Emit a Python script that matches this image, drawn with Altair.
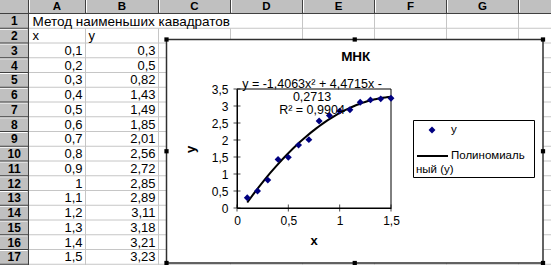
import altair as alt
import pandas as pd

# ---------------- data ----------------
x_values = [0.1, 0.2, 0.3, 0.4, 0.5, 0.6, 0.7, 0.8, 0.9, 1.0, 1.1, 1.2, 1.3, 1.4, 1.5]
y_values = [0.3, 0.5, 0.82, 1.43, 1.49, 1.85, 2.01, 2.56, 2.72, 2.85, 2.89, 3.11, 3.18, 3.21, 3.23]
column_letters = ["A", "B", "C", "D", "E", "F", "G"]
row_numbers = list(range(1, 18))
sheet_title = "Метод наименьших кавадратов"
header_x = "x"
header_y = "y"
chart_title = "МНК"
x_axis_title = "x"
y_axis_title = "y"
trend_label_lines = ["y = -1,4063x² + 4,4715x -", "0,2713", "R² = 0,9904"]
legend_series = "y"
legend_trend_lines = ["Полиномиаль", "ный (y)"]
x_tick_values = [0, 0.5, 1, 1.5]
y_tick_values = [0, 0.5, 1, 1.5, 2, 2.5, 3, 3.5]

# ---------------- layout ----------------
W, H = 551, 265
PL, PT, PW, PH = 237, 89, 154, 119          # inner plot area
COL_EDGES = [0, 28.5, 85.5, 158.5, 230.5, 302.5, 374.5, 446.5, 518.5]
HEAD_H = 13.5
ROW_H = 14.75
BOX = (166.5, 39.5, 543, 263)              # chart object box
FONT = "Liberation Sans"
GRID = "#c6c6c6"
HEAD = "#c0c0c0"

XP = alt.Scale(domain=[0, W], range=[-PL, W - PL], nice=False, zero=False)
YP = alt.Scale(domain=[0, H], range=[-PT, H - PT], nice=False, zero=False)
XS = alt.Scale(domain=[0, 1.5], nice=False, zero=False)
YS = alt.Scale(domain=[0, 3.5], nice=False, zero=False)


def row_top(r):
    return HEAD_H + (r - 1) * ROW_H


def rules(rows, color, width=1.0):
    df = pd.DataFrame(rows, columns=["x1", "y1", "x2", "y2"])
    return alt.Chart(df).mark_rule(color=color, strokeWidth=width).encode(
        x=alt.X("x1:Q", scale=XP, axis=None), x2="x2:Q",
        y=alt.Y("y1:Q", scale=YP, axis=None), y2="y2:Q")


def rects(rows, fill, stroke=None, sw=0.0):
    df = pd.DataFrame(rows, columns=["x1", "y1", "x2", "y2"])
    kw = dict(fill=fill, strokeWidth=sw)
    if stroke:
        kw["stroke"] = stroke
    return alt.Chart(df).mark_rect(**kw).encode(
        x=alt.X("x1:Q", scale=XP, axis=None), x2="x2:Q",
        y=alt.Y("y1:Q", scale=YP, axis=None), y2="y2:Q")


def texts(rows, align, size, weight="normal", angle=0):
    df = pd.DataFrame(rows, columns=["x", "y", "t"])
    return alt.Chart(df).mark_text(
        align=align, baseline="middle", fontSize=size, fontWeight=weight,
        font=FONT, color="black", angle=angle).encode(
        x=alt.X("x:Q", scale=XP, axis=None),
        y=alt.Y("y:Q", scale=YP, axis=None), text="t:N")


def fmt(v):
    return f"{v:g}".replace(".", ",")


layers = []

# ---- spreadsheet: header backgrounds ----
layers.append(rects([(0, 0, W, HEAD_H), (0, 0, COL_EDGES[1], H)], HEAD))

# ---- cell gridlines ----
grid_rows = []
for e in COL_EDGES[2:]:
    start = row_top(2) if e < 231 else HEAD_H
    grid_rows.append((e, start, e, H))
for r in row_numbers:
    y = row_top(r) + ROW_H
    grid_rows.append((COL_EDGES[1], y, W, y))
layers.append(rules(grid_rows, GRID))

# ---- header separators (3D look) ----
dark = []
light = []
for e in COL_EDGES[1:]:
    dark.append((e, 0, e, HEAD_H))
    light.append((e + 1, 0, e + 1, HEAD_H - 1))
for r in row_numbers:
    y = row_top(r) + ROW_H
    dark.append((0, y, COL_EDGES[1], y))
    light.append((0, y + 1, COL_EDGES[1] - 1, y + 1))
dark.append((0, HEAD_H, W, HEAD_H))
dark.append((COL_EDGES[1], 0, COL_EDGES[1], H))
layers.append(rules(light, "white"))
layers.append(rules(dark, "#404040"))

# ---- header text ----
hdr = [((COL_EDGES[i + 1] + COL_EDGES[i + 2]) / 2, HEAD_H / 2, c)
       for i, c in enumerate(column_letters)]
layers.append(texts(hdr, "center", 11.5, "bold"))
rn = [(COL_EDGES[1] / 2, row_top(r) + ROW_H / 2 + 0.5, str(r)) for r in row_numbers]
layers.append(texts(rn, "center", 12, "bold"))

# ---- cell text ----
left_cells = [(COL_EDGES[1] + 4, row_top(1) + ROW_H / 2 + 1, sheet_title)]
layers.append(texts(left_cells, "left", 13.5))
left_cells2 = [(COL_EDGES[1] + 4, row_top(2) + ROW_H / 2 + 0.5, header_x),
               (COL_EDGES[2] + 3, row_top(2) + ROW_H / 2 + 0.5, header_y)]
layers.append(texts(left_cells2, "left", 13))
right_cells = []
for i, (xv, yv) in enumerate(zip(x_values, y_values)):
    yc = row_top(3 + i) + ROW_H / 2 + 0.5
    right_cells.append((COL_EDGES[2] - 3, yc, fmt(xv)))
    right_cells.append((COL_EDGES[3] - 3, yc, fmt(yv)))
layers.append(texts(right_cells, "right", 13))

# ---- chart object box ----
bx1, by1, bx2, by2 = BOX
layers.append(rects([BOX], "white", "#303030", 1.5))
handles = pd.DataFrame({
    "x": [bx1, (bx1 + bx2) / 2, bx2, bx1, bx2, bx1, (bx1 + bx2) / 2, bx2],
    "y": [by1, by1, by1, (by1 + by2) / 2, (by1 + by2) / 2, by2, by2, by2]})
layers.append(alt.Chart(handles).mark_square(color="black", size=18, opacity=1).encode(
    x=alt.X("x:Q", scale=XP, axis=None), y=alt.Y("y:Q", scale=YP, axis=None)))

# ---- chart title ----
layers.append(texts([((bx1 + bx2) / 2 + 1, 57, chart_title)], "center", 13.5, "bold"))

# ---- plot area border ----
layers.append(rects([(PL, PT, PL + PW, PT + PH)], "white", "black", 1))

# ---- tick marks crossing the axes ----
xt = pd.DataFrame({"v": x_tick_values, "z": [0] * len(x_tick_values)})
layers.append(alt.Chart(xt).mark_tick(orient="vertical", size=7, thickness=1, color="black").encode(
    x=alt.X("v:Q", scale=XS, axis=None), y=alt.Y("z:Q", scale=YS, axis=None)))
yt = pd.DataFrame({"v": y_tick_values, "z": [0] * len(y_tick_values)})
layers.append(alt.Chart(yt).mark_tick(orient="horizontal", size=7, thickness=1, color="black").encode(
    y=alt.Y("v:Q", scale=YS, axis=None), x=alt.X("z:Q", scale=XS, axis=None)))

# ---- data ----
pts = pd.DataFrame({"x": x_values, "y": y_values})
label_expr = "replace(toString(datum.value), '.', ',')"
ax_common = dict(ticks=False, grid=False, domainColor="black", domainWidth=1,
                 labelColor="black", labelFont=FONT, labelFontSize=12,
                 labelFlush=False, labelOverlap=False, title=None, zindex=2)

trend = alt.Chart(pts).transform_regression(
    "x", "y", method="poly", order=2).mark_line(color="black", strokeWidth=2).encode(
    x=alt.X("x:Q", scale=XS, axis=None), y=alt.Y("y:Q", scale=YS, axis=None))
points = alt.Chart(pts).mark_point(shape="diamond", filled=True, color="#000080",
                                   size=48, opacity=1).encode(
    x=alt.X("x:Q", scale=XS, axis=alt.Axis(orient="bottom", values=x_tick_values,
                                           labelExpr=label_expr, labelPadding=7, **ax_common)),
    y=alt.Y("y:Q", scale=YS, axis=alt.Axis(orient="left", values=y_tick_values,
                                           labelExpr=label_expr, labelPadding=9, **ax_common)))
layers.append(trend)
layers.append(points)

# ---- trendline label ----
tl = [(312, 84 + 13 * i, t) for i, t in enumerate(trend_label_lines)]
layers.append(texts(tl, "center", 12.5))

# ---- axis titles ----
layers.append(texts([(PL + PW / 2, 241, x_axis_title)], "center", 13, "bold"))
layers.append(texts([(191, PT + PH / 2 + 1, y_axis_title)], "center", 13, "bold", angle=270))

# ---- legend ----
layers.append(rects([(413.5, 120.5, 534.5, 177.5)], "white", "black", 1))
leg_pt = pd.DataFrame({"x": [432], "y": [130]})
layers.append(alt.Chart(leg_pt).mark_point(shape="diamond", filled=True, color="#000080",
                                           size=48, opacity=1).encode(
    x=alt.X("x:Q", scale=XP, axis=None), y=alt.Y("y:Q", scale=YP, axis=None)))
layers.append(rules([(417, 156, 448, 156)], "black", 2))
layers.append(texts([(451, 130, legend_series), (451, 156, legend_trend_lines[0])], "left", 11.5))
layers.append(texts([(416, 170, legend_trend_lines[1])], "left", 11.5))

chart = alt.layer(*layers).resolve_scale(x="independent", y="independent").properties(
    width=PW, height=PH,
    autosize=alt.AutoSizeParams(type="none"),
    padding={"left": PL, "top": PT, "right": W - PL - PW, "bottom": H - PT - PH},
    background="white",
).configure_view(stroke=None)

chart.save("out.html", embed_options={"renderer": "svg", "actions": False})
